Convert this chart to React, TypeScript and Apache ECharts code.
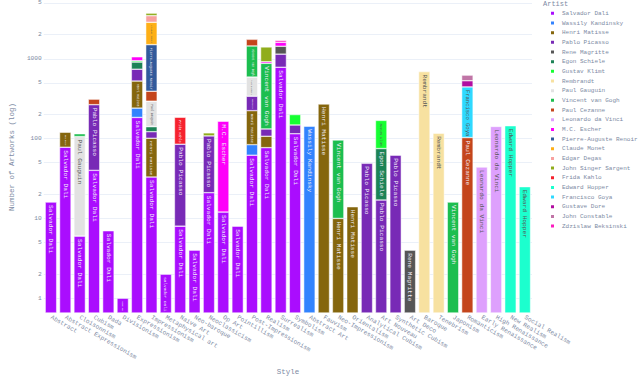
import React, { useEffect, useRef } from "react";
import * as echarts from "echarts";

const categories = [
  "Abstract", "Abstract Expressionism", "Cloisonnism", "Cubism", "Dada", "Divisionism",
  "Expressionism", "Impressionism", "Metaphysical art", "Naive Art", "Neo-baroque",
  "Neoclassicism", "Op Art", "Pointillism", "Post-Impressionism", "Realism", "Surrealism",
  "Symbolism", "Abstract Art", "Fauvism", "Neo-Impressionism", "Orientalism",
  "Analytical Cubism", "Art Nouveau", "Synthetic Cubism", "Art Deco", "Baroque",
  "Tenebrism", "Japonism", "Romanticism", "Early Renaissance", "High Renaissance",
  "New Realism", "Social Realism",
];

const artists = [
  "Salvador Dali", "Wassily Kandinsky", "Henri Matisse", "Pablo Picasso", "Rene Magritte",
  "Egon Schiele", "Gustav Klimt", "Rembrandt", "Paul Gauguin", "Vincent van Gogh",
  "Paul Cezanne", "Leonardo da Vinci", "M.C. Escher", "Pierre-Auguste Renoir",
  "Claude Monet", "Edgar Degas", "John Singer Sargent", "Frida Kahlo", "Edward Hopper",
  "Francisco Goya", "Gustave Dore", "John Constable", "Zdzislaw Beksinski",
];

const palette = [
  "#AA0DFE", "#3283FE", "#85660D", "#782AB6", "#565656", "#1C8356", "#16FF32", "#F7E1A0",
  "#E2E2E2", "#1CBE4F", "#C4451C", "#DEA0FD", "#FE00FA", "#325A9B", "#FEAF16", "#F8A19F",
  "#90AD1C", "#F6222E", "#1CFFCE", "#2ED9FF", "#B10DA1", "#C075A6", "#FC1CBF",
];

const salvadorDali: [string, number][] = [
  ["Abstract", 16], ["Abstract Expressionism", 78], ["Cloisonnism", 6], ["Cubism", 40],
  ["Dada", 7], ["Divisionism", 1], ["Expressionism", 184], ["Impressionism", 33],
  ["Metaphysical art", 2], ["Naive Art", 8], ["Neo-baroque", 4], ["Neoclassicism", 21],
  ["Op Art", 12], ["Pointillism", 8], ["Post-Impressionism", 62], ["Realism", 77],
  ["Surrealism", 783], ["Symbolism", 115],
];
const wassilyKandinsky: [string, number][] = [
  ["Expressionism", 57], ["Post-Impressionism", 22], ["Abstract Art", 143],
];
const henriMatisse: [string, number][] = [
  ["Abstract Expressionism", 42], ["Expressionism", 285], ["Impressionism", 68],
  ["Post-Impressionism", 140], ["Realism", 30], ["Fauvism", 271],
  ["Neo-Impressionism", 10], ["Orientalism", 14],
];
const pabloPicasso: [string, number][] = [
  ["Cubism", 226], ["Expressionism", 214], ["Impressionism", 21], ["Naive Art", 77],
  ["Neoclassicism", 87], ["Post-Impressionism", 116], ["Realism", 25], ["Surrealism", 360],
  ["Symbolism", 33], ["Analytical Cubism", 49], ["Art Nouveau", 17], ["Synthetic Cubism", 62],
];
const reneMagritte: [string, number][] = [["Surrealism", 293], ["Art Deco", 4]];
const egonSchiele: [string, number][] = [
  ["Expressionism", 170], ["Impressionism", 19], ["Art Nouveau", 58],
];
const gustavKlimt: [string, number][] = [
  ["Expressionism", 35], ["Symbolism", 52], ["Art Nouveau", 94],
];
const rembrandt: [string, number][] = [["Baroque", 691], ["Tenebrism", 117]];
const paulGauguin: [string, number][] = [
  ["Cloisonnism", 100], ["Impressionism", 153], ["Post-Impressionism", 249],
];
const vincentVanGogh: [string, number][] = [
  ["Cloisonnism", 9], ["Post-Impressionism", 860], ["Realism", 745],
  ["Neo-Impressionism", 86], ["Japonism", 16],
];
const paulCezanne: [string, number][] = [
  ["Cubism", 46], ["Impressionism", 98], ["Post-Impressionism", 301], ["Romanticism", 103],
];
const leonardoDaVinci: [string, number][] = [["Early Renaissance", 44], ["High Renaissance", 142]];
const mcEscher: [string, number][] = [
  ["Expressionism", 114], ["Op Art", 153], ["Realism", 41], ["Surrealism", 171],
];
const pierreAugusteRenoir: [string, number][] = [["Impressionism", 1111]];
const claudeMonet: [string, number][] = [["Impressionism", 1361]];
const edgarDegas: [string, number][] = [["Impressionism", 602]];
const johnSingerSargent: [string, number][] = [
  ["Impressionism", 265], ["Neoclassicism", 10], ["Realism", 488],
];
const fridaKahlo: [string, number][] = [["Naive Art", 100]];
const edwardHopper: [string, number][] = [["New Realism", 145], ["Social Realism", 25]];
const franciscoGoya: [string, number][] = [["Romanticism", 341]];
const gustaveDore: [string, number][] = [["Romanticism", 86]];
const johnConstable: [string, number][] = [["Romanticism", 94]];
const zdzislawBeksinski: [string, number][] = [["Surrealism", 90]];

const artistValues = [
  salvadorDali, wassilyKandinsky, henriMatisse, pabloPicasso, reneMagritte, egonSchiele,
  gustavKlimt, rembrandt, paulGauguin, vincentVanGogh, paulCezanne, leonardoDaVinci,
  mcEscher, pierreAugusteRenoir, claudeMonet, edgarDegas, johnSingerSargent, fridaKahlo,
  edwardHopper, franciscoGoya, gustaveDore, johnConstable, zdzislawBeksinski,
];

const yTicks = [1, 2, 5, 10, 20, 50, 100, 200, 500, 1000, 2000, 5000];
const Y_MIN = 0.653;
const Y_MAX = 5300;

// light bar colours get dark inside text (contrast rule)
const darkTextArtists = new Set([
  "Gustav Klimt", "Rembrandt", "Paul Gauguin", "Leonardo da Vinci", "Claude Monet",
  "Edgar Degas", "John Singer Sargent", "Edward Hopper", "Francisco Goya", "John Constable",
]);

const FONT = "'Courier New', 'Liberation Mono', monospace";
const TEXT_COLOR = "#7d8aa3";
const LABEL_FS = 6.2;
const PX_PER_DECADE = 81;

const L0 = Math.log10(Y_MIN);
const toU = (v: number) => Math.log10(v) - L0;

function buildSeries() {
  const cum = new Array(categories.length).fill(0);
  return artists.map((name, s) => {
    const map = new Map(artistValues[s]);
    const data = categories.map((c, i) => {
      const v = map.get(c);
      if (!v) return "-";
      const prev = cum[i];
      cum[i] += v;
      const top = toU(cum[i]);
      const bottom = prev > 0 ? toU(prev) : 0;
      const seg = top - bottom;
      const px = seg * PX_PER_DECADE;
      const fs = Math.min(LABEL_FS, (px - 5) / (name.length * 0.6));
      return {
        value: seg,
        label: fs >= 1.2 ? { show: true, fontSize: fs } : { show: false },
      };
    });
    return {
      type: "bar",
      name,
      stack: "total",
      data,
      barCategoryGap: "20%",
      itemStyle: { color: palette[s], borderColor: "#ffffff", borderWidth: 0.5 },
      label: {
        show: true,
        formatter: "{a}",
        position: "insideTop",
        rotate: -90,
        align: "left",
        verticalAlign: "middle",
        distance: 3,
        fontFamily: FONT,
        fontSize: LABEL_FS,
        color: darkTextArtists.has(name) ? "#555555" : "#f4eefa",
      },
      emphasis: { disabled: true },
    };
  });
}

export default function App() {
  const ref = useRef<HTMLDivElement>(null);
  useEffect(() => {
    if (!ref.current) return;
    const chart = echarts.init(ref.current, null, { renderer: "svg" });
    const tickU = yTicks.map(toU);
    chart.setOption({
      animation: false,
      backgroundColor: "#ffffff",
      textStyle: { fontFamily: FONT },
      grid: { left: 30, right: 108, top: 0, bottom: 64.3, containLabel: false },
      xAxis: {
        type: "category",
        data: categories,
        name: "Style",
        nameLocation: "middle",
        nameGap: 55,
        nameTextStyle: { fontFamily: FONT, fontSize: 7.5, color: TEXT_COLOR },
        axisLine: { show: false },
        axisTick: { show: false },
        axisLabel: {
          interval: 0,
          rotate: -30,
          margin: 4,
          fontFamily: FONT,
          fontSize: 6.2,
          color: TEXT_COLOR,
        },
        splitLine: { show: false },
      },
      yAxis: {
        type: "value",
        min: 0,
        max: toU(Y_MAX),
        name: "Number of Artworks (log)",
        nameLocation: "middle",
        nameGap: 22,
        nameTextStyle: { fontFamily: FONT, fontSize: 7.5, color: TEXT_COLOR },
        axisLine: { show: false },
        axisTick: { show: false, customValues: tickU },
        axisLabel: {
          customValues: tickU,
          margin: 2,
          fontFamily: FONT,
          fontSize: 6.2,
          color: TEXT_COLOR,
          formatter: (u: number) => {
            const v = Math.round(Math.pow(10, u + L0));
            const s = String(v);
            return s[0] === "1" ? s : s[0];
          },
        },
        splitLine: { show: true, lineStyle: { color: "#EBF0F8", width: 1 } },
      },
      legend: {
        type: "plain",
        orient: "vertical",
        left: 549,
        top: 8.5,
        padding: 0,
        itemWidth: 5,
        itemHeight: 5,
        itemGap: 0,
        icon: "rect",
        selectedMode: false,
        textStyle: {
          fontFamily: FONT,
          fontSize: 6,
          lineHeight: 9.67,
          color: TEXT_COLOR,
          padding: [0, 0, 0, 2],
        },
        data: artists,
      },
      graphic: [
        {
          type: "text",
          left: 543,
          top: 0.5,
          style: { text: "Artist", fontFamily: FONT, fontSize: 7, fill: TEXT_COLOR },
        },
      ],
      series: buildSeries(),
    });
    return () => chart.dispose();
  }, []);
  return (
    <div
      ref={ref}
      style={{ position: "absolute", left: 0, top: 0, width: 640, height: 381 }}
    />
  );
}
